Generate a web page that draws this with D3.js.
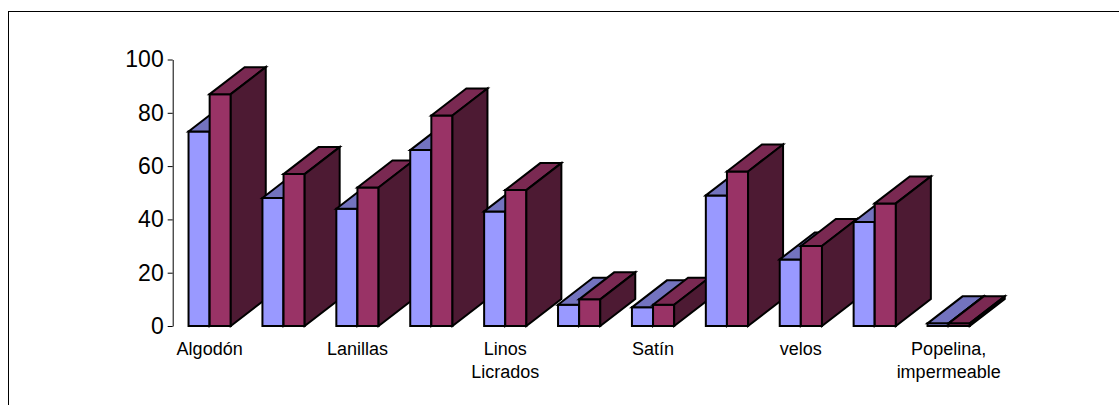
<!DOCTYPE html>
<html>
<head>
<meta charset="utf-8">
<script src="https://cdn.jsdelivr.net/npm/d3@7"></script>
<style>
  html, body { margin: 0; padding: 0; background: #fff; }
  svg { display: block; font-family: "Liberation Sans", Arial, sans-serif; }
</style>
</head>
<body>
<svg id="chart" width="1119" height="405"></svg>
<script>
// Category labels (only every other one is printed on the axis)
const categories = ["Algodón", "", "Lanillas", "", "Linos Licrados", "", "Satín", "", "velos", "", "Popelina, impermeable"];
// Series values per category
const seriesA = [73, 48, 44, 66, 43, 8, 7, 49, 25, 39, 1];
const seriesB = [87, 57, 52, 79, 51, 10, 8, 58, 30, 46, 1];
// Value-axis ticks
const yTicks = [0, 20, 40, 60, 80, 100];

// Face colours: front, top, side
const palette = [
  { front: "#9999FF", top: "#7373BF", side: "#4D4D80" },
  { front: "#993366", top: "#7A2952", side: "#4D1A33" }
];

const svg = d3.select("#chart");

// Chart frame
svg.append("rect")
  .attr("x", 8.5).attr("y", 11.5)
  .attr("width", 1300).attr("height", 600)
  .attr("fill", "none").attr("stroke", "#000").attr("stroke-width", 1);

const plot = { left: 172.7, right: 985.6, top: 59.5, bottom: 326 };

const x = d3.scaleBand()
  .domain(d3.range(categories.length))
  .range([plot.left, plot.right])
  .paddingInner(0).paddingOuter(0);

const y = d3.scaleLinear().domain([0, 100]).range([plot.bottom, plot.top]);

// Column geometry: 150% gap width, oblique depth offset
const barW = x.bandwidth() / 3.5;
const depthX = 35, depthY = 27;

const series = [seriesA, seriesB];
const bars = svg.append("g").attr("class", "bars");

categories.forEach((c, i) => {
  series.forEach((vals, s) => {
    const v = vals[i];
    const x0 = x(i) + 0.75 * barW + s * barW;
    const x1 = x0 + barW;
    const yt = y(v), yb = y(0);
    const col = palette[s];
    const g = bars.append("g")
      .attr("stroke", "#000").attr("stroke-width", 2).attr("stroke-linejoin", "miter");
    // front face
    g.append("path")
      .attr("d", `M${x0},${yb}L${x0},${yt}L${x1},${yt}L${x1},${yb}Z`)
      .attr("fill", col.front);
    // top face
    g.append("path")
      .attr("d", `M${x0},${yt}L${x0 + depthX},${yt - depthY}L${x1 + depthX},${yt - depthY}L${x1},${yt}Z`)
      .attr("fill", col.top);
    // side face
    g.append("path")
      .attr("d", `M${x1},${yt}L${x1 + depthX},${yt - depthY}L${x1 + depthX},${yb - depthY}L${x1},${yb}Z`)
      .attr("fill", col.side);
  });
});

// Value axis
const yAxis = svg.append("g")
  .attr("transform", `translate(${plot.left},0)`)
  .call(d3.axisLeft(y).tickValues(yTicks).tickSize(5).tickSizeOuter(0).tickPadding(4));
yAxis.select(".domain").attr("stroke", "#000");
yAxis.selectAll(".tick line").attr("stroke", "#000");
yAxis.selectAll(".tick text")
  .attr("fill", "#000")
  .style("font-size", "23px")
  .style("font-family", "'Liberation Sans', Arial, sans-serif");

// Category axis labels (wrapped on spaces)
const labels = svg.append("g").attr("class", "x-labels");
categories.forEach((c, i) => {
  if (i % 2 !== 0 || !c) return;
  const cx = x(i) + x.bandwidth() / 2;
  const t = labels.append("text")
    .attr("x", cx).attr("y", 355)
    .attr("text-anchor", "middle")
    .attr("fill", "#000")
    .style("font-size", "18px");
  c.split(" ").forEach((w, k) => {
    t.append("tspan").attr("x", cx).attr("dy", k === 0 ? 0 : 23).text(w);
  });
});
</script>
</body>
</html>
